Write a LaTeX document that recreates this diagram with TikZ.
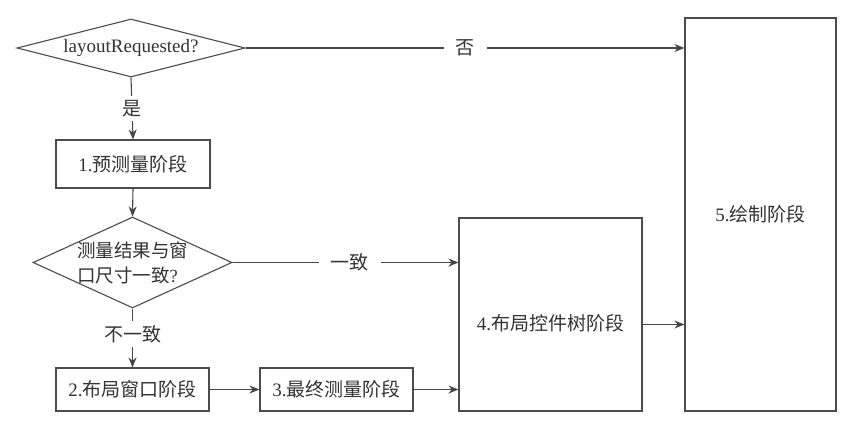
\documentclass[tikz,border=0pt]{standalone}
\usepackage{fontspec}
\setmainfont{Liberation Serif}
\newfontfamily\cjk{Noto Sans CJK SC}
\usetikzlibrary{shapes.geometric,arrows.meta}
\newcommand{\zh}[1]{{\cjk #1}}
\begin{document}
\begin{tikzpicture}[x=1pt,y=-1pt,
  every node/.style={font=\fontsize{19}{25}\selectfont, text=black!80},
  stepbox/.style={draw=black!70, line width=1.1pt, rectangle, inner sep=0pt},
  decision/.style={draw=black!70, line width=1.1pt, diamond, inner sep=0pt},
  arr/.style={draw=black!72, line width=1.1pt, -{Stealth[length=10pt,width=8pt]}},
  lbl/.style={fill=white, inner xsep=12pt, inner ysep=4pt},
  vlbl/.style={fill=white, inner xsep=3pt, inner ysep=4pt}]
\useasboundingbox[fill=white] (0,0) rectangle (851,429);

\node[decision, minimum width=228pt, minimum height=58pt, aspect=3.9] (d1) at (131,48) {layoutRequested?};
\node[stepbox, minimum width=154pt, minimum height=48pt] (b1) at (133,164) {1.\zh{预测量阶段}};
\node[decision, minimum width=199pt, minimum height=91pt, aspect=2.2,
  label={[align=left, text=black!80, font=\fontsize{18.5}{25}\selectfont]center:\zh{测量结果与窗}\\\zh{口尺寸一致}?}] (d2) at (132.5,262.5) {};
\node[stepbox, minimum width=153pt, minimum height=43pt] (b2) at (132.5,389.5) {2.\zh{布局窗口阶段}};
\node[stepbox, minimum width=153pt, minimum height=43pt] (b3) at (336.5,389.5) {3.\zh{最终测量阶段}};
\node[stepbox, minimum width=183pt, minimum height=193pt,
  label={[yshift=-9pt, text=black!80]center:4.\zh{布局控件树阶段}}] (b4) at (550.5,314.5) {};
\node[stepbox, minimum width=151pt, minimum height=393pt] (b5) at (760.5,214.5) {5.\zh{绘制阶段}};

\draw[arr] (d1.east) -- node[lbl]{\zh{否}} (b5.west |- d1.east);
\draw[arr] (d1.south) -- node[vlbl]{\zh{是}} (b1.north);
\draw[arr] (b1.south) -- (d2.north);
\draw[arr] (d2.east) -- node[lbl, xshift=4pt]{\zh{一致}} (b4.west |- d2.east);
\draw[arr] (d2.south) -- node[vlbl, yshift=4pt]{\zh{不一致}} (b2.north);
\draw[arr] (b2.east) -- (b3.west);
\draw[arr] (b3.east) -- (b4.west |- b3.east);
\draw[arr] ([yshift=-10pt]b4.east) -- ([yshift=-10pt]b4.east -| b5.west);
\end{tikzpicture}
\end{document}
